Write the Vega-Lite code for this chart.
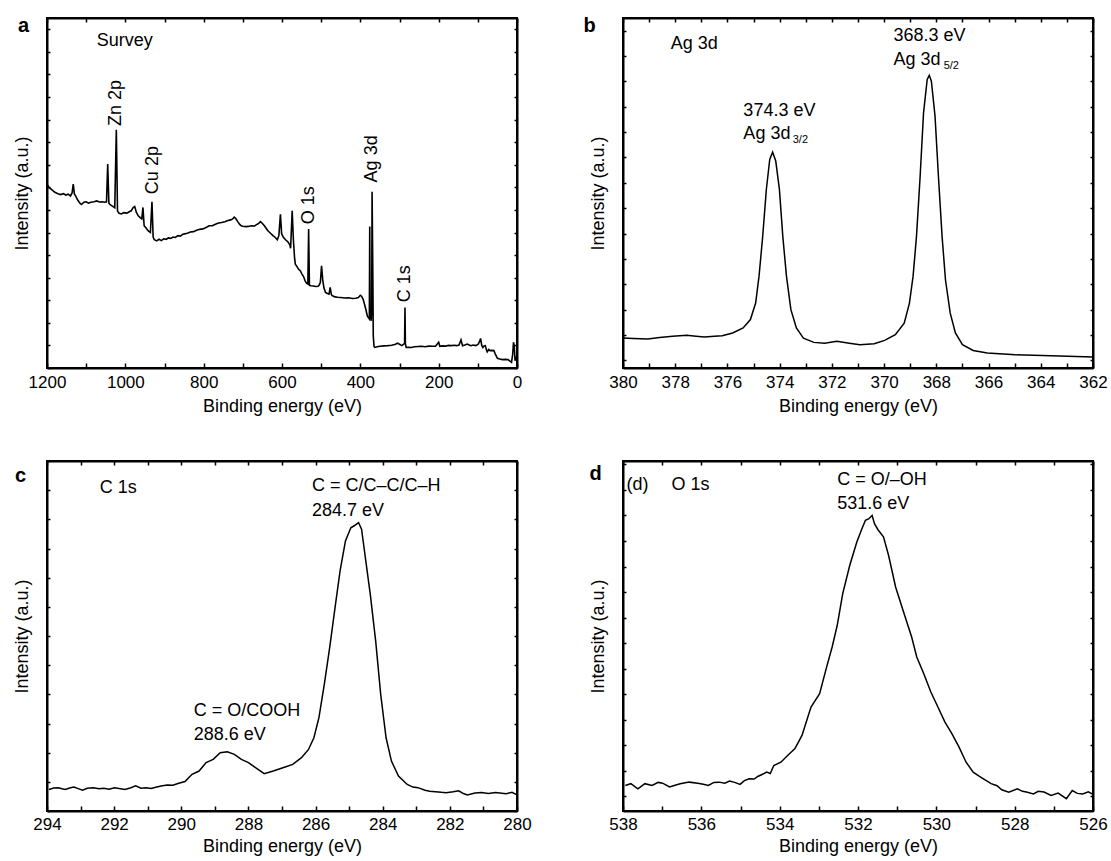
{
  "$schema": "https://vega.github.io/schema/vega-lite/v6.json",
  "padding": {"left": 12, "top": 14, "right": 5, "bottom": 0},
  "background": "white",
  "columns": 2,
  "bounds": "flush",
  "spacing": {"row": 93, "column": 106},
  "config": {
    "font": "Liberation Sans",
    "view": {"stroke": "black", "strokeWidth": 2, "fill": null},
    "axis": {"grid": false, "domain": true, "domainColor": "black", "domainWidth": 2, "tickColor": "black", "tickWidth": 1.5, "labelColor": "black", "titleColor": "black", "labelFont": "Liberation Sans", "titleFont": "Liberation Sans", "labelFontSize": 17, "titleFontSize": 18, "titleFontWeight": "normal", "labelFlush": false, "labelOverlap": false},
    "text": {"font": "Liberation Sans", "fontSize": 18, "color": "black"},
    "line": {"color": "black", "strokeWidth": 1.5}
  },
  "datasets": {
    "survey": [
      {"E":1200,"I":8.14},{"E":1195,"I":8.0},{"E":1188,"I":7.9},{"E":1180,"I":7.78},{"E":1172,"I":7.72},{"E":1165,"I":7.68},{"E":1158,"I":7.72},{"E":1152,"I":7.66},{"E":1146,"I":7.7},{"E":1140,"I":7.62},{"E":1136,"I":7.75},{"E":1133,"I":8.14},{"E":1130,"I":7.7},{"E":1127,"I":7.62},{"E":1122,"I":7.45},{"E":1116,"I":7.3},{"E":1112,"I":7.24},{"E":1106,"I":7.34},{"E":1100,"I":7.36},{"E":1094,"I":7.3},{"E":1088,"I":7.34},{"E":1080,"I":7.36},{"E":1073,"I":7.4},{"E":1066,"I":7.35},{"E":1059,"I":7.36},{"E":1053,"I":7.34},{"E":1048,"I":7.36},{"E":1045,"I":9.03},{"E":1042,"I":7.3},{"E":1038,"I":7.22},{"E":1032,"I":7.16},{"E":1027,"I":7.1},{"E":1023,"I":10.55},{"E":1020,"I":6.95},{"E":1016,"I":6.85},{"E":1010,"I":6.82},{"E":1004,"I":6.88},{"E":996,"I":6.86},{"E":990,"I":6.92},{"E":985,"I":6.96},{"E":980,"I":7.1},{"E":976,"I":7.15},{"E":972,"I":6.9},{"E":967,"I":6.74},{"E":962,"I":6.66},{"E":958,"I":6.6},{"E":955,"I":7.11},{"E":952,"I":6.3},{"E":947,"I":6.2},{"E":942,"I":6.08},{"E":936,"I":6.0},{"E":932,"I":7.36},{"E":929,"I":5.8},{"E":926,"I":5.68},{"E":920,"I":5.63},{"E":914,"I":5.7},{"E":908,"I":5.64},{"E":902,"I":5.72},{"E":896,"I":5.7},{"E":890,"I":5.76},{"E":884,"I":5.74},{"E":878,"I":5.8},{"E":872,"I":5.78},{"E":866,"I":5.86},{"E":860,"I":5.84},{"E":853,"I":5.92},{"E":846,"I":5.95},{"E":840,"I":5.98},{"E":834,"I":6.02},{"E":826,"I":6.04},{"E":818,"I":6.1},{"E":810,"I":6.14},{"E":802,"I":6.16},{"E":794,"I":6.22},{"E":786,"I":6.3},{"E":778,"I":6.3},{"E":770,"I":6.37},{"E":762,"I":6.42},{"E":754,"I":6.44},{"E":746,"I":6.48},{"E":738,"I":6.53},{"E":731,"I":6.56},{"E":726,"I":6.6},{"E":722,"I":6.68},{"E":718,"I":6.62},{"E":713,"I":6.48},{"E":708,"I":6.36},{"E":704,"I":6.3},{"E":700,"I":6.28},{"E":692,"I":6.26},{"E":686,"I":6.27},{"E":678,"I":6.3},{"E":670,"I":6.29},{"E":665,"I":6.35},{"E":660,"I":6.4},{"E":655,"I":6.48},{"E":650,"I":6.4},{"E":645,"I":6.3},{"E":640,"I":6.18},{"E":636,"I":6.08},{"E":630,"I":5.98},{"E":623,"I":5.86},{"E":617,"I":5.78},{"E":612,"I":5.68},{"E":608,"I":5.86},{"E":604,"I":6.81},{"E":601,"I":5.95},{"E":597,"I":5.8},{"E":591,"I":5.68},{"E":585,"I":5.59},{"E":580,"I":5.45},{"E":578,"I":5.3},{"E":574,"I":6.96},{"E":571,"I":5.7},{"E":568,"I":4.9},{"E":566,"I":4.6},{"E":562,"I":4.5},{"E":558,"I":4.38},{"E":553,"I":4.3},{"E":549,"I":4.16},{"E":545,"I":4.05},{"E":541,"I":3.86},{"E":537,"I":3.75},{"E":534,"I":3.72},{"E":532,"I":6.15},{"E":530,"I":3.66},{"E":526,"I":3.64},{"E":520,"I":3.63},{"E":514,"I":3.61},{"E":508,"I":3.62},{"E":505,"I":3.67},{"E":502,"I":3.8},{"E":499,"I":4.53},{"E":496,"I":3.9},{"E":493,"I":3.55},{"E":489,"I":3.35},{"E":484,"I":3.3},{"E":480,"I":3.27},{"E":477,"I":3.57},{"E":474,"I":3.25},{"E":471,"I":3.2},{"E":465,"I":3.15},{"E":458,"I":3.13},{"E":450,"I":3.12},{"E":440,"I":3.1},{"E":430,"I":3.11},{"E":420,"I":3.08},{"E":412,"I":3.09},{"E":405,"I":3.12},{"E":400,"I":3.22},{"E":397,"I":3.18},{"E":393,"I":3.05},{"E":389,"I":2.8},{"E":386,"I":2.6},{"E":382,"I":2.3},{"E":379,"I":2.22},{"E":377,"I":2.17},{"E":376,"I":6.27},{"E":375,"I":2.25},{"E":374,"I":2.32},{"E":372,"I":2.09},{"E":371,"I":2.6},{"E":370,"I":7.8},{"E":368,"I":4.0},{"E":367,"I":1.43},{"E":365,"I":0.95},{"E":363,"I":0.91},{"E":357,"I":0.94},{"E":350,"I":0.96},{"E":340,"I":0.98},{"E":330,"I":0.99},{"E":320,"I":1.01},{"E":312,"I":1.04},{"E":305,"I":1.1},{"E":300,"I":1.05},{"E":294,"I":0.99},{"E":290,"I":1.04},{"E":287,"I":1.1},{"E":286,"I":2.68},{"E":285,"I":1.08},{"E":283,"I":0.91},{"E":278,"I":0.92},{"E":270,"I":0.91},{"E":262,"I":0.94},{"E":252,"I":0.95},{"E":244,"I":0.96},{"E":235,"I":0.94},{"E":225,"I":0.97},{"E":215,"I":0.96},{"E":208,"I":0.96},{"E":200,"I":1.14},{"E":197,"I":0.96},{"E":190,"I":0.98},{"E":182,"I":0.97},{"E":175,"I":1.0},{"E":168,"I":0.99},{"E":160,"I":1.01},{"E":154,"I":0.99},{"E":148,"I":1.02},{"E":143,"I":1.25},{"E":139,"I":0.99},{"E":133,"I":1.02},{"E":127,"I":1.06},{"E":122,"I":1.02},{"E":118,"I":0.99},{"E":112,"I":1.02},{"E":105,"I":0.99},{"E":99,"I":1.05},{"E":95,"I":1.2},{"E":93,"I":1.31},{"E":90,"I":1.0},{"E":87,"I":0.91},{"E":84,"I":0.98},{"E":81,"I":0.99},{"E":78,"I":0.8},{"E":76,"I":0.72},{"E":72,"I":0.82},{"E":69,"I":0.77},{"E":64,"I":0.78},{"E":59,"I":0.77},{"E":55,"I":0.6},{"E":50,"I":0.43},{"E":44,"I":0.4},{"E":37,"I":0.37},{"E":30,"I":0.38},{"E":23,"I":0.37},{"E":18,"I":0.3},{"E":14,"I":0.25},{"E":11,"I":0.6},{"E":9,"I":1.14},{"E":7,"I":0.99},{"E":5,"I":0.32},{"E":3,"I":0.45},{"E":1,"I":0.5},{"E":0,"I":0.55}
    ],
    "ag": [
      {"E":380,"I":0.88},{"E":379.6,"I":0.86},{"E":379.05,"I":0.84},{"E":378.6,"I":0.9},{"E":378.1,"I":0.95},{"E":377.56,"I":0.99},{"E":377.2,"I":0.95},{"E":376.88,"I":0.92},{"E":376.5,"I":0.95},{"E":376.2,"I":0.97},{"E":375.8,"I":1.08},{"E":375.4,"I":1.28},{"E":375.12,"I":1.61},{"E":374.92,"I":2.26},{"E":374.79,"I":3.32},{"E":374.65,"I":4.89},{"E":374.51,"I":6.74},{"E":374.38,"I":7.92},{"E":374.27,"I":8.21},{"E":374.15,"I":7.86},{"E":374.01,"I":6.74},{"E":373.88,"I":4.89},{"E":373.74,"I":3.32},{"E":373.57,"I":2.0},{"E":373.36,"I":1.28},{"E":373.09,"I":0.88},{"E":372.69,"I":0.71},{"E":372.28,"I":0.68},{"E":371.81,"I":0.75},{"E":371.33,"I":0.68},{"E":370.93,"I":0.62},{"E":370.38,"I":0.66},{"E":369.98,"I":0.79},{"E":369.57,"I":1.01},{"E":369.23,"I":1.47},{"E":369.03,"I":2.26},{"E":368.89,"I":3.32},{"E":368.76,"I":4.89},{"E":368.62,"I":7.26},{"E":368.49,"I":9.76},{"E":368.35,"I":11.08},{"E":368.27,"I":11.24},{"E":368.19,"I":11.01},{"E":368.05,"I":9.63},{"E":367.92,"I":7.26},{"E":367.78,"I":4.89},{"E":367.65,"I":3.18},{"E":367.47,"I":1.87},{"E":367.27,"I":1.08},{"E":367.0,"I":0.62},{"E":366.59,"I":0.39},{"E":366.05,"I":0.29},{"E":364.97,"I":0.22},{"E":363.61,"I":0.18},{"E":362,"I":0.13}
    ],
    "c1s": [
      {"E":293.94,"I":0.74},{"E":293.8,"I":0.79},{"E":293.67,"I":0.8},{"E":293.55,"I":0.76},{"E":293.46,"I":0.74},{"E":293.3,"I":0.8},{"E":293.2,"I":0.82},{"E":293.05,"I":0.76},{"E":292.94,"I":0.71},{"E":292.8,"I":0.78},{"E":292.62,"I":0.8},{"E":292.45,"I":0.76},{"E":292.31,"I":0.78},{"E":292.15,"I":0.75},{"E":291.99,"I":0.8},{"E":291.85,"I":0.77},{"E":291.68,"I":0.74},{"E":291.5,"I":0.8},{"E":291.36,"I":0.86},{"E":291.2,"I":0.78},{"E":291.05,"I":0.8},{"E":290.9,"I":0.77},{"E":290.73,"I":0.82},{"E":290.6,"I":0.86},{"E":290.42,"I":0.89},{"E":290.25,"I":0.88},{"E":290.1,"I":0.94},{"E":289.89,"I":1.01},{"E":289.68,"I":1.26},{"E":289.47,"I":1.37},{"E":289.26,"I":1.66},{"E":289.05,"I":1.77},{"E":288.84,"I":2.0},{"E":288.63,"I":2.03},{"E":288.42,"I":1.94},{"E":288.21,"I":1.77},{"E":288.0,"I":1.66},{"E":287.79,"I":1.49},{"E":287.53,"I":1.28},{"E":287.26,"I":1.37},{"E":286.95,"I":1.49},{"E":286.68,"I":1.6},{"E":286.42,"I":1.83},{"E":286.21,"I":2.11},{"E":286.05,"I":2.51},{"E":285.9,"I":3.2},{"E":285.74,"I":4.34},{"E":285.58,"I":5.6},{"E":285.42,"I":6.97},{"E":285.27,"I":8.23},{"E":285.11,"I":9.26},{"E":284.95,"I":9.71},{"E":284.85,"I":9.78},{"E":284.79,"I":9.83},{"E":284.72,"I":9.89},{"E":284.63,"I":9.66},{"E":284.53,"I":8.8},{"E":284.37,"I":7.43},{"E":284.21,"I":5.83},{"E":284.06,"I":4.0},{"E":283.9,"I":2.51},{"E":283.74,"I":1.71},{"E":283.53,"I":1.2},{"E":283.27,"I":0.91},{"E":283.1,"I":0.82},{"E":282.95,"I":0.8},{"E":282.74,"I":0.71},{"E":282.6,"I":0.68},{"E":282.43,"I":0.66},{"E":282.25,"I":0.64},{"E":282.11,"I":0.63},{"E":281.9,"I":0.66},{"E":281.74,"I":0.69},{"E":281.6,"I":0.6},{"E":281.48,"I":0.55},{"E":281.25,"I":0.62},{"E":281.06,"I":0.63},{"E":280.85,"I":0.6},{"E":280.64,"I":0.63},{"E":280.45,"I":0.61},{"E":280.32,"I":0.59},{"E":280.15,"I":0.64},{"E":280.0,"I":0.55}
    ],
    "o1s": [
      {"E":537.94,"I":0.43},{"E":537.8,"I":0.5},{"E":537.62,"I":0.3},{"E":537.44,"I":0.5},{"E":537.26,"I":0.43},{"E":537.1,"I":0.55},{"E":536.99,"I":0.52},{"E":536.81,"I":0.37},{"E":536.65,"I":0.45},{"E":536.54,"I":0.5},{"E":536.31,"I":0.56},{"E":536.09,"I":0.52},{"E":535.95,"I":0.48},{"E":535.82,"I":0.43},{"E":535.68,"I":0.55},{"E":535.55,"I":0.56},{"E":535.4,"I":0.52},{"E":535.28,"I":0.6},{"E":535.15,"I":0.55},{"E":535.01,"I":0.47},{"E":534.9,"I":0.62},{"E":534.78,"I":0.69},{"E":534.65,"I":0.68},{"E":534.56,"I":0.78},{"E":534.45,"I":0.86},{"E":534.33,"I":0.95},{"E":534.24,"I":0.9},{"E":534.15,"I":1.21},{"E":533.97,"I":1.34},{"E":533.79,"I":1.61},{"E":533.61,"I":1.87},{"E":533.43,"I":2.39},{"E":533.2,"I":3.5},{"E":532.98,"I":4.02},{"E":532.8,"I":5.07},{"E":532.66,"I":5.85},{"E":532.53,"I":6.7},{"E":532.39,"I":7.94},{"E":532.21,"I":9.05},{"E":532.03,"I":9.96},{"E":531.9,"I":10.48},{"E":531.81,"I":10.81},{"E":531.72,"I":10.87},{"E":531.64,"I":11.0},{"E":531.58,"I":10.68},{"E":531.49,"I":10.44},{"E":531.35,"I":10.16},{"E":531.22,"I":9.44},{"E":531.04,"I":8.2},{"E":530.81,"I":7.09},{"E":530.63,"I":6.24},{"E":530.5,"I":5.46},{"E":530.32,"I":4.8},{"E":530.14,"I":4.09},{"E":529.96,"I":3.5},{"E":529.78,"I":2.91},{"E":529.6,"I":2.45},{"E":529.42,"I":1.93},{"E":529.24,"I":1.34},{"E":529.06,"I":0.95},{"E":528.87,"I":0.76},{"E":528.6,"I":0.5},{"E":528.45,"I":0.42},{"E":528.33,"I":0.26},{"E":528.15,"I":0.17},{"E":527.93,"I":0.3},{"E":527.8,"I":0.2},{"E":527.7,"I":0.17},{"E":527.52,"I":0.1},{"E":527.4,"I":0.2},{"E":527.25,"I":0.17},{"E":527.07,"I":0.04},{"E":526.89,"I":0.13},{"E":526.68,"I":-0.09},{"E":526.53,"I":0.23},{"E":526.4,"I":0.12},{"E":526.26,"I":0.1},{"E":526.12,"I":0.18},{"E":526.0,"I":0.08}
    ]
  },
  "concat": [
    {
      "width": 470, "height": 350,
      "layer": [
        {"data": {"values": [{}]}, "mark": {"type": "rect", "filled": false, "color": "black", "strokeWidth": 2},
         "encoding": {
           "x": {"datum": 1200, "type": "quantitative", "scale": {"domain": [1200, 0], "nice": false, "zero": false}, "axis": null},
           "x2": {"datum": 0},
           "y": {"datum": 0, "type": "quantitative", "scale": {"domain": [0, 15.5], "nice": false, "zero": false}, "axis": null},
           "y2": {"datum": 15.5}
         }},
        {"data": {"name": "survey"}, "mark": {"type": "line", "color": "black", "strokeWidth": 1.6},
         "encoding": {
           "x": {"field": "E", "type": "quantitative", "scale": {"domain": [1200, 0], "nice": false, "zero": false},
                 "axis": {"orient": "bottom", "title": "Binding energy (eV)", "format": "d", "values": [0,100,200,300,400,500,600,700,800,900,1000,1100,1200], "labelExpr": "datum.value % 200 === 0 ? datum.label : ''", "tickSize": -5, "labelPadding": 11, "titlePadding": 7}},
           "y": {"field": "I", "type": "quantitative", "scale": {"domain": [0, 15.5], "nice": false, "zero": false},
                 "axis": {"orient": "left", "title": "Intensity (a.u.)", "labels": false, "values": [0,1,2,3,4,5,6,7,8,9,10,11,12,13,14,15], "tickSize": -3, "titlePadding": 15}}
         }},
        {"data": {"name": "survey"}, "mark": {"type": "line", "opacity": 0},
         "encoding": {
           "x": {"field": "E", "type": "quantitative", "scale": {"domain": [1200, 0], "nice": false, "zero": false},
                 "axis": {"orient": "top", "title": null, "labels": false, "values": [0,100,200,300,400,500,600,700,800,900,1000,1100,1200], "tickSize": -4}},
           "y": {"field": "I", "type": "quantitative", "scale": {"domain": [0, 15.5], "nice": false, "zero": false},
                 "axis": {"orient": "right", "title": null, "labels": false, "values": [0,1,2,3,4,5,6,7,8,9,10,11,12,13,14,15], "tickSize": -3}}
         }},
        {"data": {"values": [{"x": 1073, "y": 14.48, "t": "Survey"}]}, "mark": {"type": "text", "align": "left", "baseline": "middle"},
         "encoding": {"x": {"field": "x", "type": "quantitative", "axis": null}, "y": {"field": "y", "type": "quantitative", "axis": null}, "text": {"field": "t"}}},
        {"data": {"values": [{"x": 1023, "y": 10.72, "t": "Zn 2p"}, {"x": 929, "y": 7.7, "t": "Cu 2p"}, {"x": 531, "y": 6.37, "t": "O 1s"}, {"x": 370, "y": 8.22, "t": "Ag 3d"}, {"x": 285, "y": 2.91, "t": "C 1s"}]},
         "mark": {"type": "text", "align": "left", "baseline": "middle", "angle": 270},
         "encoding": {"x": {"field": "x", "type": "quantitative", "axis": null}, "y": {"field": "y", "type": "quantitative", "axis": null}, "text": {"field": "t"}}},
        {"data": {"values": [{"x": 1260, "y": 15.15, "t": "a"}]}, "mark": {"type": "text", "align": "center", "baseline": "middle", "fontWeight": "bold", "fontSize": 20},
         "encoding": {"x": {"field": "x", "type": "quantitative", "axis": null}, "y": {"field": "y", "type": "quantitative", "axis": null}, "text": {"field": "t"}}}
      ],
      "resolve": {"axis": {"x": "independent", "y": "independent"}}
    },
    {
      "width": 470, "height": 350,
      "layer": [
        {"data": {"values": [{}]}, "mark": {"type": "rect", "filled": false, "color": "black", "strokeWidth": 2},
         "encoding": {
           "x": {"datum": 380, "type": "quantitative", "scale": {"domain": [380, 362], "nice": false, "zero": false}, "axis": null},
           "x2": {"datum": 362},
           "y": {"datum": -0.3, "type": "quantitative", "scale": {"domain": [-0.3, 13.5], "nice": false, "zero": false}, "axis": null},
           "y2": {"datum": 13.5}
         }},
        {"data": {"name": "ag"}, "mark": {"type": "line", "color": "black", "strokeWidth": 1.5},
         "encoding": {
           "x": {"field": "E", "type": "quantitative", "scale": {"domain": [380, 362], "nice": false, "zero": false},
                 "axis": {"orient": "bottom", "title": "Binding energy (eV)", "format": "d", "values": [362,363,364,365,366,367,368,369,370,371,372,373,374,375,376,377,378,379,380], "labelExpr": "datum.value % 2 === 0 ? datum.label : ''", "tickSize": -5, "labelPadding": 11, "titlePadding": 7}},
           "y": {"field": "I", "type": "quantitative", "scale": {"domain": [-0.3, 13.5], "nice": false, "zero": false},
                 "axis": {"orient": "left", "title": "Intensity (a.u.)", "labels": false, "values": [0,1,2,3,4,5,6,7,8,9,10,11,12,13], "tickSize": -3, "titlePadding": 15}}
         }},
        {"data": {"name": "ag"}, "mark": {"type": "line", "opacity": 0},
         "encoding": {
           "x": {"field": "E", "type": "quantitative", "scale": {"domain": [380, 362], "nice": false, "zero": false},
                 "axis": {"orient": "top", "title": null, "labels": false, "values": [362,363,364,365,366,367,368,369,370,371,372,373,374,375,376,377,378,379,380], "tickSize": -4}},
           "y": {"field": "I", "type": "quantitative", "scale": {"domain": [-0.3, 13.5], "nice": false, "zero": false},
                 "axis": {"orient": "right", "title": null, "labels": false, "values": [0,1,2,3,4,5,6,7,8,9,10,11,12,13], "tickSize": -3}}
         }},
        {"data": {"values": [{"x": 378.17, "y": 12.46, "t": "Ag 3d"}, {"x": 375.39, "y": 9.83, "t": "374.3 eV"}, {"x": 375.39, "y": 8.91, "t": "Ag 3d"}, {"x": 369.64, "y": 12.79, "t": "368.3 eV"}, {"x": 369.64, "y": 11.84, "t": "Ag 3d"}]},
         "mark": {"type": "text", "align": "left", "baseline": "middle"},
         "encoding": {"x": {"field": "x", "type": "quantitative", "axis": null}, "y": {"field": "y", "type": "quantitative", "axis": null}, "text": {"field": "t"}}},
        {"data": {"values": [{"x": 373.5, "y": 8.68, "t": "3/2"}, {"x": 367.72, "y": 11.61, "t": "5/2"}]},
         "mark": {"type": "text", "align": "left", "baseline": "middle", "fontSize": 11},
         "encoding": {"x": {"field": "x", "type": "quantitative", "axis": null}, "y": {"field": "y", "type": "quantitative", "axis": null}, "text": {"field": "t"}}},
        {"data": {"values": [{"x": 381.28, "y": 13.18, "t": "b"}]}, "mark": {"type": "text", "align": "center", "baseline": "middle", "fontWeight": "bold", "fontSize": 20},
         "encoding": {"x": {"field": "x", "type": "quantitative", "axis": null}, "y": {"field": "y", "type": "quantitative", "axis": null}, "text": {"field": "t"}}}
      ],
      "resolve": {"axis": {"x": "independent", "y": "independent"}}
    },
    {
      "width": 470, "height": 350,
      "layer": [
        {"data": {"values": [{}]}, "mark": {"type": "rect", "filled": false, "color": "black", "strokeWidth": 2},
         "encoding": {
           "x": {"datum": 294, "type": "quantitative", "scale": {"domain": [294, 280], "nice": false, "zero": false}, "axis": null},
           "x2": {"datum": 280},
           "y": {"datum": 0, "type": "quantitative", "scale": {"domain": [0, 12], "nice": false, "zero": false}, "axis": null},
           "y2": {"datum": 12}
         }},
        {"data": {"name": "c1s"}, "mark": {"type": "line", "color": "black", "strokeWidth": 1.5},
         "encoding": {
           "x": {"field": "E", "type": "quantitative", "scale": {"domain": [294, 280], "nice": false, "zero": false},
                 "axis": {"orient": "bottom", "title": "Binding energy (eV)", "format": "d", "values": [280,281,282,283,284,285,286,287,288,289,290,291,292,293,294], "labelExpr": "datum.value % 2 === 0 ? datum.label : ''", "tickSize": -5, "labelPadding": 10, "titlePadding": 5}},
           "y": {"field": "I", "type": "quantitative", "scale": {"domain": [0, 12], "nice": false, "zero": false},
                 "axis": {"orient": "left", "title": "Intensity (a.u.)", "labels": false, "values": [0,1,2,3,4,5,6,7,8,9,10,11,12], "tickSize": -3, "titlePadding": 15}}
         }},
        {"data": {"name": "c1s"}, "mark": {"type": "line", "opacity": 0},
         "encoding": {
           "x": {"field": "E", "type": "quantitative", "scale": {"domain": [294, 280], "nice": false, "zero": false},
                 "axis": {"orient": "top", "title": null, "labels": false, "values": [280,281,282,283,284,285,286,287,288,289,290,291,292,293,294], "tickSize": -4}},
           "y": {"field": "I", "type": "quantitative", "scale": {"domain": [0, 12], "nice": false, "zero": false},
                 "axis": {"orient": "right", "title": null, "labels": false, "values": [0,1,2,3,4,5,6,7,8,9,10,11,12], "tickSize": -3}}
         }},
        {"data": {"values": [{"x": 292.43, "y": 11.09, "t": "C 1s"}, {"x": 286.11, "y": 11.14, "t": "C = C/C–C/C–H"}, {"x": 286.11, "y": 10.29, "t": "284.7 eV"}, {"x": 289.63, "y": 3.43, "t": "C = O/COOH"}, {"x": 289.63, "y": 2.61, "t": "288.6 eV"}]},
         "mark": {"type": "text", "align": "left", "baseline": "middle"},
         "encoding": {"x": {"field": "x", "type": "quantitative", "axis": null}, "y": {"field": "y", "type": "quantitative", "axis": null}, "text": {"field": "t"}}},
        {"data": {"values": [{"x": 294.79, "y": 11.49, "t": "c"}]}, "mark": {"type": "text", "align": "center", "baseline": "middle", "fontWeight": "bold", "fontSize": 20},
         "encoding": {"x": {"field": "x", "type": "quantitative", "axis": null}, "y": {"field": "y", "type": "quantitative", "axis": null}, "text": {"field": "t"}}}
      ],
      "resolve": {"axis": {"x": "independent", "y": "independent"}}
    },
    {
      "width": 470, "height": 350,
      "layer": [
        {"data": {"values": [{}]}, "mark": {"type": "rect", "filled": false, "color": "black", "strokeWidth": 2},
         "encoding": {
           "x": {"datum": 538, "type": "quantitative", "scale": {"domain": [538, 526], "nice": false, "zero": false}, "axis": null},
           "x2": {"datum": 526},
           "y": {"datum": -0.57, "type": "quantitative", "scale": {"domain": [-0.57, 13.13], "nice": false, "zero": false}, "axis": null},
           "y2": {"datum": 13.13}
         }},
        {"data": {"name": "o1s"}, "mark": {"type": "line", "color": "black", "strokeWidth": 1.5},
         "encoding": {
           "x": {"field": "E", "type": "quantitative", "scale": {"domain": [538, 526], "nice": false, "zero": false},
                 "axis": {"orient": "bottom", "title": "Binding energy (eV)", "format": "d", "values": [526,527,528,529,530,531,532,533,534,535,536,537,538], "labelExpr": "datum.value % 2 === 0 ? datum.label : ''", "tickSize": -5, "labelPadding": 10, "titlePadding": 5}},
           "y": {"field": "I", "type": "quantitative", "scale": {"domain": [-0.57, 13.13], "nice": false, "zero": false},
                 "axis": {"orient": "left", "title": "Intensity (a.u.)", "labels": false, "values": [0,1,2,3,4,5,6,7,8,9,10,11,12,13], "tickSize": -3, "titlePadding": 15}}
         }},
        {"data": {"name": "o1s"}, "mark": {"type": "line", "opacity": 0},
         "encoding": {
           "x": {"field": "E", "type": "quantitative", "scale": {"domain": [538, 526], "nice": false, "zero": false},
                 "axis": {"orient": "top", "title": null, "labels": false, "values": [526,527,528,529,530,531,532,533,534,535,536,537,538], "tickSize": -4}},
           "y": {"field": "I", "type": "quantitative", "scale": {"domain": [-0.57, 13.13], "nice": false, "zero": false},
                 "axis": {"orient": "right", "title": null, "labels": false, "values": [0,1,2,3,4,5,6,7,8,9,10,11,12,13], "tickSize": -3}}
         }},
        {"data": {"values": [{"x": 537.91, "y": 12.18, "t": "(d)"}, {"x": 536.76, "y": 12.18, "t": "O 1s"}, {"x": 532.53, "y": 12.38, "t": "C = O/–OH"}, {"x": 532.53, "y": 11.44, "t": "531.6 eV"}]},
         "mark": {"type": "text", "align": "left", "baseline": "middle"},
         "encoding": {"x": {"field": "x", "type": "quantitative", "axis": null}, "y": {"field": "y", "type": "quantitative", "axis": null}, "text": {"field": "t"}}},
        {"data": {"values": [{"x": 538.7, "y": 12.64, "t": "d"}]}, "mark": {"type": "text", "align": "center", "baseline": "middle", "fontWeight": "bold", "fontSize": 20},
         "encoding": {"x": {"field": "x", "type": "quantitative", "axis": null}, "y": {"field": "y", "type": "quantitative", "axis": null}, "text": {"field": "t"}}}
      ],
      "resolve": {"axis": {"x": "independent", "y": "independent"}}
    }
  ]
}
